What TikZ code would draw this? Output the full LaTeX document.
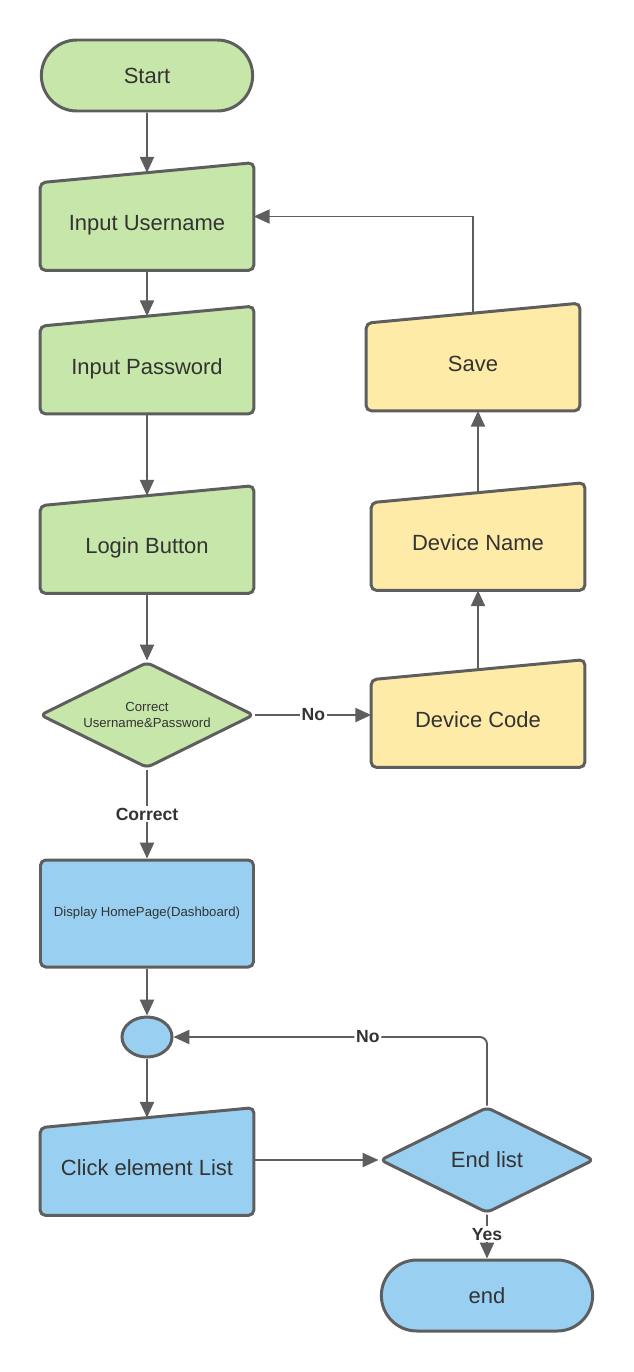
\documentclass[tikz,border=0pt]{standalone}
\usepackage{fontspec}
\setmainfont{Liberation Sans}
\usetikzlibrary{shapes.geometric, shapes.misc, arrows.meta, backgrounds}

\definecolor{grn}{HTML}{C7E6A9}
\definecolor{ylw}{HTML}{FFEBA8}
\definecolor{blu}{HTML}{99D0F2}
\definecolor{edge}{HTML}{5E5E5E}
\definecolor{ink}{HTML}{333333}

\begin{document}
\begin{tikzpicture}[
  font=\fontsize{12.5}{15}\selectfont, text=ink,
  term/.style={rounded rectangle, draw=edge, line width=1.7pt, minimum width=4.46cm, minimum height=1.42cm},
  block/.style={rectangle, draw=edge, line width=1.7pt, rounded corners=3pt, minimum width=4.26cm, minimum height=2.14cm},
  manual/.style={rectangle, minimum width=4.26cm, minimum height=1.94cm, text height=10.7pt, text depth=0pt},
  decision/.style={diamond, aspect=2, draw=edge, line width=1.7pt, rounded corners=3pt, minimum width=4.28cm, minimum height=2.12cm, inner sep=0pt},
  joint/.style={ellipse, draw=edge, line width=1.7pt, minimum width=1cm, minimum height=0.8cm},
  small/.style={font=\fontsize{7.5}{9}\selectfont},
  tag/.style={font=\bfseries\fontsize{10}{12}\selectfont, fill=white, inner sep=1pt},
  line/.style={draw=edge, line width=1.1pt, -{Triangle[length=9pt, width=8pt]}}
]
    \useasboundingbox (0,0) rectangle (12.66,-27.44);

    \node [term, fill=grn] (start) at (2.94,-1.51) {Start};
    \node [manual, below of=start, node distance=2.92cm] (user) {Input Username};
    \node [manual, below of=user, node distance=2.87cm] (pass) {Input Password};
    \node [manual, below of=pass, node distance=3.59cm] (login) {Login Button};
    \node [decision, fill=grn, small, align=center, below of=login, node distance=3.41cm] (check) {Correct\\Username\&Password};
    \node [block, fill=blu, small, below of=check, node distance=3.97cm] (disp) {Display HomePage(Dashboard)};
    \node [joint, fill=blu, below of=disp, node distance=2.47cm] (loop) {};
    \node [manual, below of=loop, node distance=2.59cm] (click) {Click element List};
    \node [decision, fill=blu, right of=click, node distance=6.8cm, yshift=0.13cm] (endl) {End list};
    \node [term, fill=blu, below of=endl, node distance=2.71cm] (finish) {end};
    \node [manual, right of=check, node distance=6.62cm, yshift=-0.07cm] (code) {Device Code};
    \node [manual, above of=code, node distance=3.54cm] (dname) {Device Name};
    \node [manual, above of=dname, node distance=3.59cm, xshift=-0.1cm] (save) {Save};

    % slanted tops of the input boxes
    \begin{scope}[on background layer]
      \foreach \n/\c in {user/grn, pass/grn, login/grn, click/blu, code/ylw, dname/ylw, save/ylw}
        \draw [draw=edge, fill=\c, line width=1.7pt, rounded corners=3pt]
          (\n.south west) -- ([yshift=-0.2cm]\n.north west) -- ([yshift=0.2cm]\n.north east) -- (\n.south east) -- cycle;
    \end{scope}

    \path [line] (start) -- (user);
    \path [line] (user) -- (pass);
    \path [line] (pass) -- (login);
    \path [line] (login) -- (check);
    \path [line] (check) -- node [tag] {Correct} (disp);
    \path [line] (check.east) -- node [tag] {No} (check.east -| code.west);
    \path [line] (code) -- (dname);
    \path [line] (dname.north) -- (dname.north |- save.south);
    \path [line] (save.north) |- ([yshift=0.1cm]user.east);
    \path [line] (disp) -- (loop);
    \path [line] (loop) -- (click);
    \path [line] (endl.west -| click.east) -- (endl.west);
    \path [line, rounded corners=4pt] (endl.north) |- node [tag, pos=0.69] {No} (loop.east);
    \path [line] (endl) -- node [tag, pos=0.45] {Yes} (finish);
\end{tikzpicture}
\end{document}
